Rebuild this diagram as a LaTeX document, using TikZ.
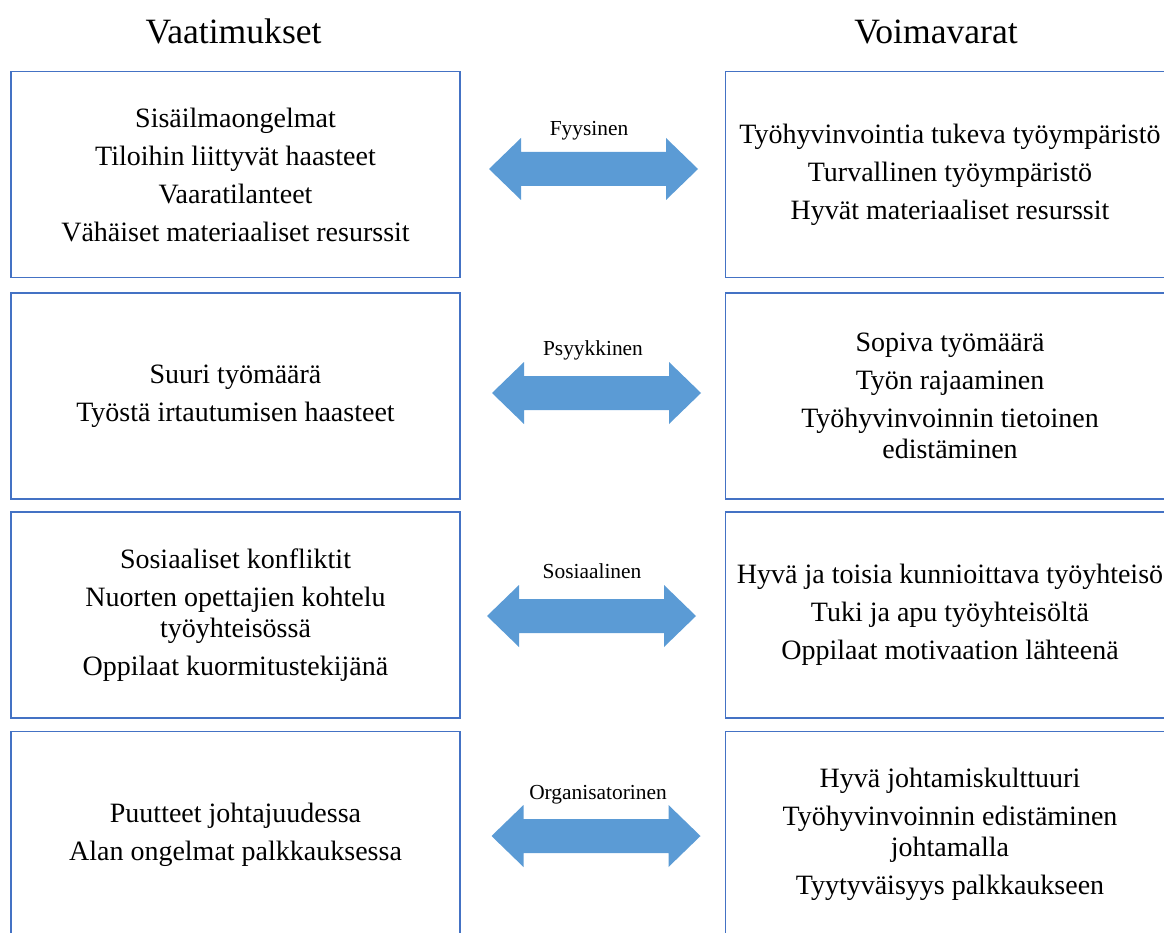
\documentclass[tikz,border=0pt]{standalone}
\usepackage{fontspec}
\setmainfont{Liberation Serif}
\usetikzlibrary{positioning}

\definecolor{reunasin}{HTML}{4472C4}
\definecolor{nuolisin}{HTML}{5B9BD5}

\tikzset{
  laatikko/.style={draw=reunasin, line width=1.4pt, minimum width=449pt, minimum height=206pt,
    inner sep=0pt, align=center, font=\fontsize{28}{31}\selectfont},
  otsikko/.style={anchor=base, font=\fontsize{35.6}{40}\selectfont},
  nuolinimi/.style={anchor=base, font=\fontsize{21.4}{24}\selectfont},
  nuoli/.style={fill=nuolisin}
}

% kaksipainen nuoli keskipisteen ympari
\newcommand{\kaksoisnuoli}[1]{%
  \fill[nuoli] (#1) ++(-104.5,0) -- ++(32,-31) -- ++(0,14) -- ++(145,0) -- ++(0,-14)
    -- ++(32,31) -- ++(-32,31) -- ++(0,-14) -- ++(-145,0) -- ++(0,14) -- cycle;}

\begin{document}
\begin{tikzpicture}[x=1pt,y=-1pt]
        \useasboundingbox (0,0) rectangle (1164,933);
        \clip (0,0) rectangle (1164,933);

        % Otsikot
        \node[otsikko] (vaatimukset) at (233.5,44) {Vaatimukset};
        \node[otsikko] (voimavarat) at (936,44) {Voimavarat};

        % Vaatimukset (vasen sarake)
        \node[laatikko] (vaat1) at (235.5,174.5) {Sisäilmaongelmat\\[7pt] Tiloihin liittyvät haasteet\\[7pt] Vaaratilanteet\\[7pt] Vähäiset materiaaliset resurssit};
        \node[laatikko] (vaat2) at (235.5,396) {Suuri työmäärä\\[7pt] Työstä irtautumisen haasteet};
        \node[laatikko] (vaat3) at (235.5,615) {Sosiaaliset konfliktit\\[7pt] Nuorten opettajien kohtelu\\ työyhteisössä\\[7pt] Oppilaat kuormitustekijänä};
        \node[laatikko] (vaat4) at (235.5,834.5) {Puutteet johtajuudessa\\[7pt] Alan ongelmat palkkauksessa};

        % Voimavarat (oikea sarake)
        \node[laatikko] (voim1) at (950,174.5) {Työhyvinvointia tukeva työympäristö\\[7pt] Turvallinen työympäristö\\[7pt] Hyvät materiaaliset resurssit};
        \node[laatikko] (voim2) at (950,396) {Sopiva työmäärä\\[7pt] Työn rajaaminen\\[7pt] Työhyvinvoinnin tietoinen\\ edistäminen};
        \node[laatikko] (voim3) at (950,615) {Hyvä ja toisia kunnioittava työyhteisö\\[7pt] Tuki ja apu työyhteisöltä\\[7pt] Oppilaat motivaation lähteenä};
        \node[laatikko] (voim4) at (950,834.5) {Hyvä johtamiskulttuuri\\[7pt] Työhyvinvoinnin edistäminen\\ johtamalla\\[7pt] Tyytyväisyys palkkaukseen};

        % Nuolet ja niiden nimet
        \coordinate (nuoli1) at (593.5,169);
        \coordinate (nuoli2) at (596.5,393);
        \coordinate (nuoli3) at (591.5,616);
        \coordinate (nuoli4) at (596,836);
        \kaksoisnuoli{nuoli1}
        \kaksoisnuoli{nuoli2}
        \kaksoisnuoli{nuoli3}
        \kaksoisnuoli{nuoli4}
        \node[nuolinimi] (fyys) at (589,136) {Fyysinen};
        \node[nuolinimi] (psyyk) at (593,355) {Psyykkinen};
        \node[nuolinimi] (sos) at (592,578) {Sosiaalinen};
        \node[nuolinimi] (org) at (598,799) {Organisatorinen};
\end{tikzpicture}
\end{document}
